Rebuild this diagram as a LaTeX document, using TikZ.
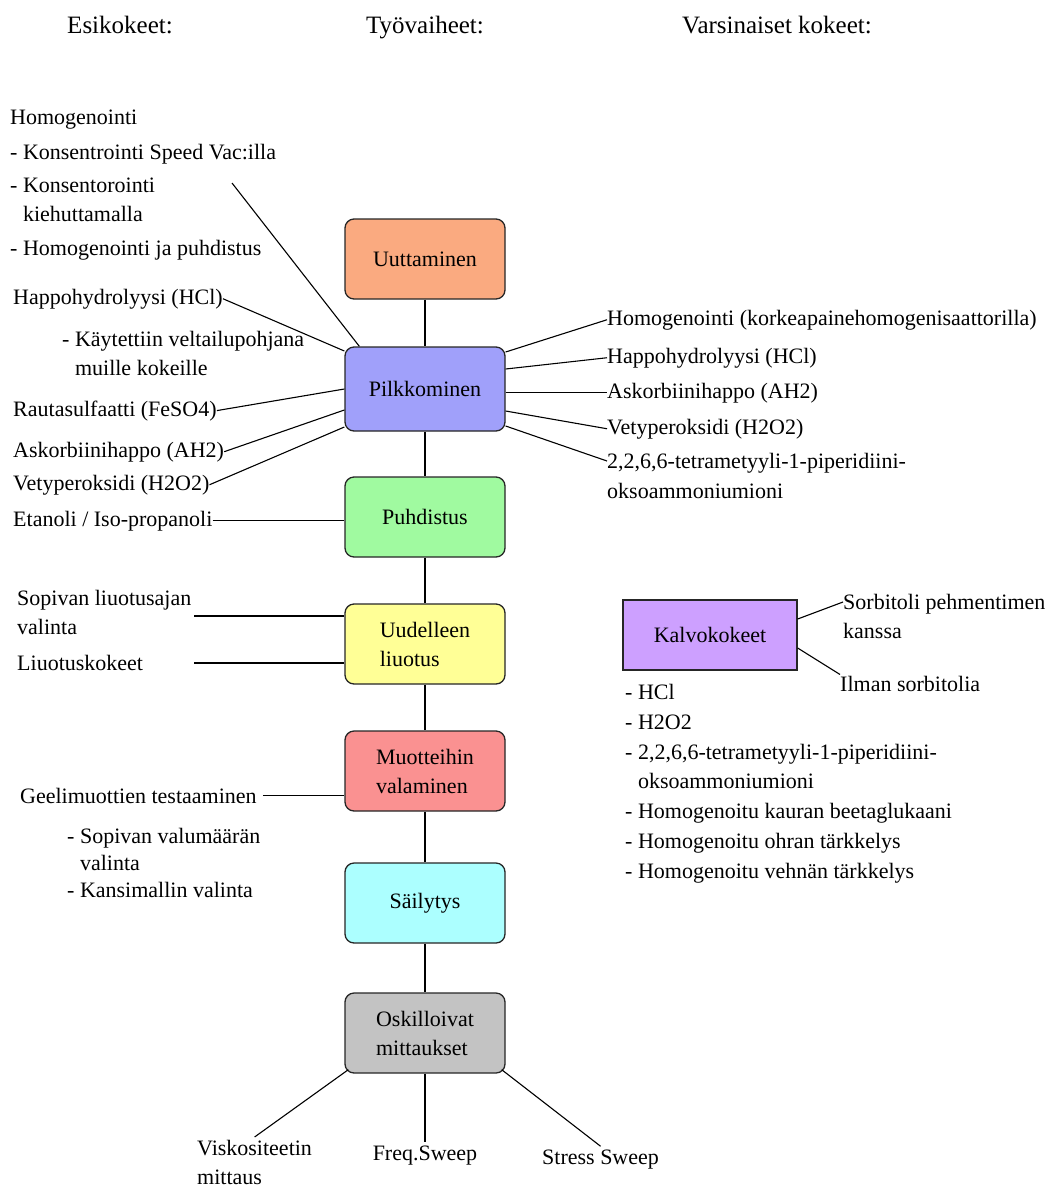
\documentclass[tikz,border=0pt]{standalone}
\usepackage{fontspec}
\setmainfont{Liberation Serif}
\usepackage{xcolor}
\usetikzlibrary{positioning}
\usetikzlibrary{calc}
\definecolor{uutcol}{RGB}{250,170,128}
\definecolor{pilcol}{RGB}{160,160,250}
\definecolor{puhcol}{RGB}{160,250,160}
\definecolor{uudcol}{RGB}{255,255,150}
\definecolor{muocol}{RGB}{250,145,145}
\definecolor{saicol}{RGB}{172,255,255}
\definecolor{oskcol}{RGB}{195,195,195}
\definecolor{kalcol}{RGB}{205,160,255}
\newcommand\colx{425}
\newcommand\leftx{13}
\newcommand\rightx{607}

\begin{document}
\begin{tikzpicture}[x=1pt,y=-1pt,
    every node/.style={font=\fontsize{22}{29}\selectfont},
    stage/.style={draw=black!85, line width=1.3pt, rounded corners=9pt, minimum width=160pt, minimum height=80pt, inner sep=2pt, align=left},
    lbl/.style={anchor=base west, inner sep=0pt},
    lblm/.style={anchor=north west, inner sep=0pt, align=left},
    link/.style={line width=1.1pt},
    head/.style={anchor=base, inner sep=0pt, font=\fontsize{25}{30}\selectfont}]
    \useasboundingbox (0,0) rectangle (1051,1187);
    % --- Headings
    \node[head] (hesi) at (120,33) {Esikokeet:};
    \node[head] (htyo) at (425,33) {Työvaiheet:};
    \node[head] (hvar) at (777,33) {Varsinaiset kokeet:};
    % --- Stages
    \node[stage, fill=uutcol] (uut) at (\colx,259) {Uuttaminen};
    \node[stage, fill=pilcol, minimum height=84pt] (pil) at (\colx,389) {Pilkkominen};
    \node[stage, fill=puhcol] (puh) at (\colx,517) {Puhdistus};
    \node[stage, fill=uudcol] (uud) at (\colx,644) {Uudelleen\\liuotus};
    \node[stage, fill=muocol] (muo) at (\colx,771) {Muotteihin\\valaminen};
    \node[stage, fill=saicol] (sai) at (\colx,903) {Säilytys};
    \node[stage, fill=oskcol] (osk) at (\colx,1033) {Oskilloivat\\mittaukset};
    \draw[link] (uut) -- (pil);
    \draw[link] (pil) -- (puh);
    \draw[link] (puh) -- (uud);
    \draw[link] (uud) -- (muo);
    \draw[link] (muo) -- (sai);
    \draw[link] (sai) -- (osk);
    % --- Esikokeet, left
    \node[lbl] (homog) at (10,124) {Homogenointi};
    \node[lbl] (speed) at (10,159) {- Konsentrointi Speed Vac:illa};
    \node[lblm] (keit) at (10,178) {- Konsentorointi\\\hphantom{- }kiehuttamalla};
    \node[lbl] (hopu) at (10,255) {- Homogenointi ja puhdistus};
    \node[lbl] (lhcl) at (\leftx,304) {Happohydrolyysi (HCl)};
    \node[lblm] (vert) at (62,331) {- Käytettiin veltailupohjana\\\hphantom{- }muille kokeille};
    \node[lbl] (lfe) at (\leftx,416) {Rautasulfaatti (FeSO4)};
    \node[lbl] (lah) at (\leftx,457) {Askorbiinihappo (AH2)};
    \node[lbl] (lhp) at (\leftx,490) {Vetyperoksidi (H2O2)};
    \node[lbl] (leta) at (\leftx,526) {Etanoli / Iso-propanoli};
    \node[lblm] (sopi) at (17,590) {Sopivan liuotusajan\\valinta};
    \node[lbl] (liuo) at (17,670) {Liuotuskokeet};
    \node[lbl] (geel) at (20,803) {Geelimuottien testaaminen};
    \node[lblm, font=\fontsize{22}{27}\selectfont] (valu) at (67,828) {- Sopivan valumäärän\\\hphantom{- }valinta\\- Kansimallin valinta};
    \coordinate (kfree) at (232,183);
    \coordinate (sfree) at (194,616);
    \coordinate (lfree) at (194,663);
    \draw[link] (kfree) -- ([xshift=15pt]pil.north west);
    \draw[link] (lhcl.east) -- ([yshift=38pt]pil.west);
    \draw[link] (lfe.east) -- (pil.west);
    \draw[link] (lah.east) -- ([yshift=-21pt]pil.west);
    \draw[link] (lhp.east) -- ([yshift=-38pt]pil.west);
    \draw[link] (leta.east) -- (puh.west |- leta.east);
    \draw[link] (sfree) -- (uud.west |- sfree);
    \draw[link] (lfree) -- (uud.west |- lfree);
    \draw[link] ([xshift=6pt]geel.east) -- (muo.west |- geel.east);
    % --- Varsinaiset kokeet, right
    \node[lbl] (rhom) at (\rightx,325) {Homogenointi (korkeapainehomogenisaattorilla)};
    \node[lbl] (rhcl) at (\rightx,363) {Happohydrolyysi (HCl)};
    \node[lbl] (rah) at (\rightx,398) {Askorbiinihappo (AH2)};
    \node[lbl] (rhp) at (\rightx,434) {Vetyperoksidi (H2O2)};
    \node[lblm, font=\fontsize{22}{30}\selectfont] (rtemp) at (\rightx,453) {2,2,6,6-tetrametyyli-1-piperidiini-\\oksoammoniumioni};
    \draw[link] ([yshift=37pt]pil.east) -- (rhom.west);
    \draw[link] ([yshift=20pt]pil.east) -- (rhcl.west);
    \draw[link] (pil.east |- rah.west) -- (rah.west);
    \draw[link] ([yshift=-22pt]pil.east) -- (rhp.west);
    \draw[link] ([yshift=-37pt]pil.east) -- ([yshift=-8pt]rtemp.north west);
    % --- Kalvokokeet
    \node[draw=black!85, line width=1.3pt, fill=kalcol, minimum width=174pt, minimum height=70pt] (kal) at (710,635) {Kalvokokeet};
    \node[lblm] (sorb) at (843,594) {Sorbitoli pehmentimen\\kanssa};
    \node[lbl] (ilman) at (840,691) {Ilman sorbitolia};
    \draw[link] ([yshift=16pt]kal.east) -- ([yshift=-8pt]sorb.north west);
    \draw[link] ([yshift=-13pt]kal.east) -- ([yshift=9pt]ilman.west);
    \node[lblm, font=\fontsize{22}{29.8}\selectfont] (klist) at (625,684) {- HCl\\- H2O2\\- 2,2,6,6-tetrametyyli-1-piperidiini-\\\hphantom{- }oksoammoniumioni\\- Homogenoitu kauran beetaglukaani\\- Homogenoitu ohran tärkkelys\\- Homogenoitu vehnän tärkkelys};
    % --- Mittaukset
    \node[lblm] (visko) at (197,1140) {Viskositeetin\\mittaus};
    \node[lbl, anchor=base] (freq) at (\colx,1160) {Freq.Sweep};
    \node[lbl] (stress) at (542,1164) {Stress Sweep};
    \draw[link] ($(osk.south west)+(4,-4)$) -- ([yshift=3pt]visko.north);
    \draw[link] (osk.south) -- ([yshift=3pt]freq.north);
    \draw[link] ($(osk.south east)+(-4,-4)$) -- ([yshift=3pt]stress.north);
\end{tikzpicture}
\end{document}
